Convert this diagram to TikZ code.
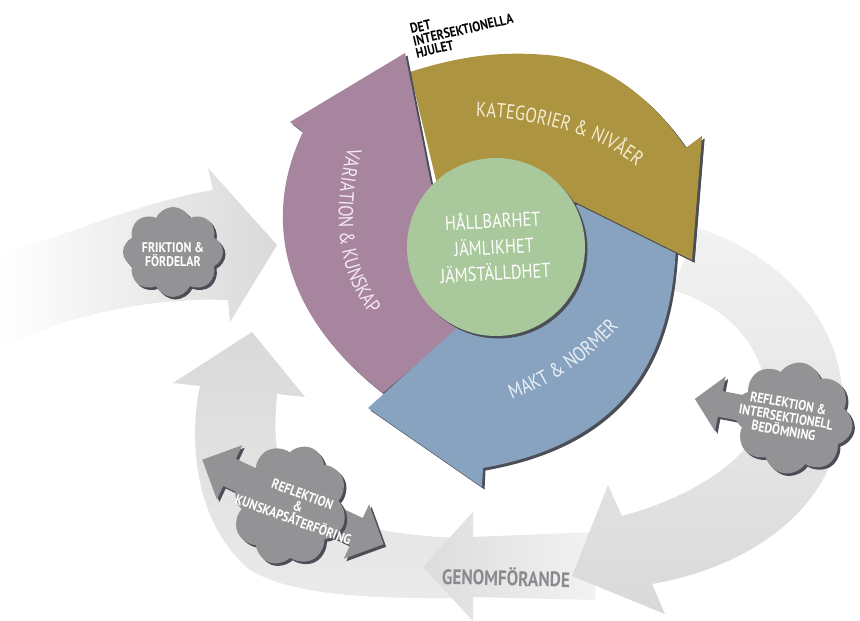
\documentclass[tikz,border=0pt]{standalone}
\usepackage{fontspec}
\newfontfamily\wf{PT Sans}[FakeStretch=0.82]
\newfontfamily\wn{PT Sans}[FakeStretch=0.85]
\usetikzlibrary{shapes.symbols,decorations.text,shadows}
\definecolor{olivec}{HTML}{AD9440}
\definecolor{purplec}{HTML}{A8859F}
\definecolor{bluec}{HTML}{88A3BF}
\definecolor{greenc}{HTML}{A9C89B}
\definecolor{shadowc}{HTML}{4B4E56}
\definecolor{cloudc}{HTML}{939396}
\definecolor{bandc}{HTML}{D9D9D9}
\definecolor{bandl}{HTML}{F2F2F2}
\definecolor{genc}{HTML}{8A8B8F}
\definecolor{olivetxt}{HTML}{F4EDD2}
\definecolor{purpletxt}{HTML}{F4E8F1}
\definecolor{bluetxt}{HTML}{E9F0F7}
\tikzset{
  shd/.style={general shadow={shadow xshift=2.5pt, shadow yshift=-2.5pt, fill=shadowc}},
  olivep/.style={insert path={(410,72) .. controls (460,56) and (500,51) .. (547,55)
     .. controls (600,59) and (650,95) .. (686,148) -- (702,136) -- (692,260)
     -- (575,202) -- (496,247) -- (437,184) -- cycle}},
  purplep/.style={insert path={(405,53) -- (431,184) -- (496,247) -- (462,326)
     -- (383,393) .. controls (275,310) and (265,210) .. (303,132) -- (290,122) -- cycle}},
  bluep/.style={insert path={(570,195) -- (676,245) .. controls (672,340) and (640,440) .. (483,468)
     -- (482,487) -- (368,408) -- (457,328) -- (496,247) -- cycle}},
  cloudbox/.style={cloud, cloud puffs=8, cloud puff arc=130, aspect=1, fill=cloudc, shd,
     inner sep=0pt},
  cloudtxt/.style={font=\wn\bfseries\fontsize{14}{14}\selectfont, text=white, align=center, inner sep=0pt}
}
\begin{document}
\begin{tikzpicture}[x=1pt,y=-1pt]
\useasboundingbox (0,0) rectangle (860,621);
\fill[white] (0,0) rectangle (860,621);

% incoming arrow on the left
\shade[left color=white, right color=bandc]
  (0,255) .. controls (80,230) and (150,200) .. (213,190) -- (208,168) -- (277,245)
  -- (230,322) -- (228,300) .. controls (150,297) and (70,315) .. (0,347) -- cycle;

% lower-left loop arrow
\shade[top color=bandc, bottom color=bandl!70!bandc]
  (460,538) .. controls (380,535) and (300,520) .. (282,470)
  .. controls (272,440) and (276,410) .. (277,394) -- (305,397) -- (252,332)
  -- (173,383) -- (200,386) .. controls (190,430) and (190,520) .. (250,570)
  .. controls (300,600) and (400,598) .. (460,598) -- cycle;

% Genomforande arrow
\shade[left color=bandc!90!white, right color=bandl]
  (423,567) -- (473,512) -- (473,537) -- (595,532) -- (595,600) -- (473,597) -- (473,621) -- cycle;

% right loop arrow
\shade[top color=bandl, bottom color=bandc]
  (697,228) .. controls (785,255) and (848,330) .. (842,410)
  .. controls (840,500) and (760,565) .. (652,584) -- (665,614) -- (572,576)
  -- (608,485) -- (622,516) .. controls (700,495) and (768,450) .. (766,395)
  .. controls (764,345) and (725,305) .. (672,290) -- cycle;

% wheel
\fill[olivec, shd, olivep];
\fill[purplec, shd, purplep];
\fill[bluec, shd, bluep];
\begin{scope}
  \clip (560,100) rectangle (730,290);
  \fill[olivec, shd, olivep];
\end{scope}
\fill[greenc, shd] (496,247) circle[radius=89pt];

\node[font=\wf\fontsize{20}{26}\selectfont, text=white, align=center, rotate=3] (ct) at (494,246)
  {HÅLLBARHET\\JÄMLIKHET\\JÄMSTÄLLDHET};

\path[decorate, decoration={text along path, text align=center,
  text={|\wf\fontsize{20.5}{20.5}\selectfont\color{olivetxt}|KATEGORIER {\&} NIVÅER}}]
  (450,117) .. controls (512,114) and (612,128) .. (654,186);
\path[decorate, decoration={text along path, text align=center,
  text={|\wf\fontsize{20.5}{20.5}\selectfont\color{purpletxt}|VARIATION {\&} KUNSKAP}}]
  (358,116) .. controls (330,190) and (325,285) .. (394,338);
\path[decorate, decoration={text along path, text align=center,
  text={|\wf\fontsize{20.5}{20.5}\selectfont\color{bluetxt}|MAKT {\&} NORMER}}]
  (486,408) .. controls (530,397) and (592,366) .. (636,306);

\node[font=\wn\bfseries\fontsize{14}{12.5}\selectfont, anchor=north west, align=left,
  rotate=13, inner sep=0pt] (det) at (409,24) {DET\\INTERSEKTIONELLA\\HJULET};

\node[font=\wf\bfseries\fontsize{21}{21}\selectfont, text=genc, rotate=-1.5] (gen) at (506,577) {GENOMFÖRANDE};

% cloud 1
\node[cloudbox, minimum width=100pt, minimum height=90pt] (c1) at (173,252) {};
\node[cloudtxt] (t1) at (173,255) {FRIKTION \&\\FÖRDELAR};

% cloud 2 with arrow
\begin{scope}[shift={(793,418)}, rotate=-11]
  \fill[cloudc, shd] (-100,0) -- (-74,-28) -- (-74,-13) -- (-20,-13) -- (-20,13)
    -- (-74,13) -- (-74,28) -- cycle;
\end{scope}
\node[cloudbox, minimum width=120pt, minimum height=112pt, rotate=-10] (c2) at (793,418) {};
\node[cloudtxt, rotate=-10] (t2) at (786,417) {REFLEKTION \&\\INTERSEKTIONELL\\BEDÖMNING};

% cloud 3 with double arrow
\begin{scope}[shift={(293,502)}, rotate=-25]
  \fill[cloudc, shd] (-100,0) -- (-70,-30) -- (-70,-15) -- (70,-15) -- (70,-30) -- (100,0)
    -- (70,30) -- (70,15) -- (-70,15) -- (-70,30) -- cycle;
\end{scope}
\node[cloudbox, minimum width=114pt, minimum height=122pt, rotate=-20] (c3) at (290,505) {};
\node[cloudtxt, rotate=-20, font=\wn\bfseries\fontsize{14}{13.5}\selectfont] (t3) at (298,507)
  {REFLEKTION\\\&\\KUNSKAPSÅTERFÖRING};
\end{tikzpicture}
\end{document}
